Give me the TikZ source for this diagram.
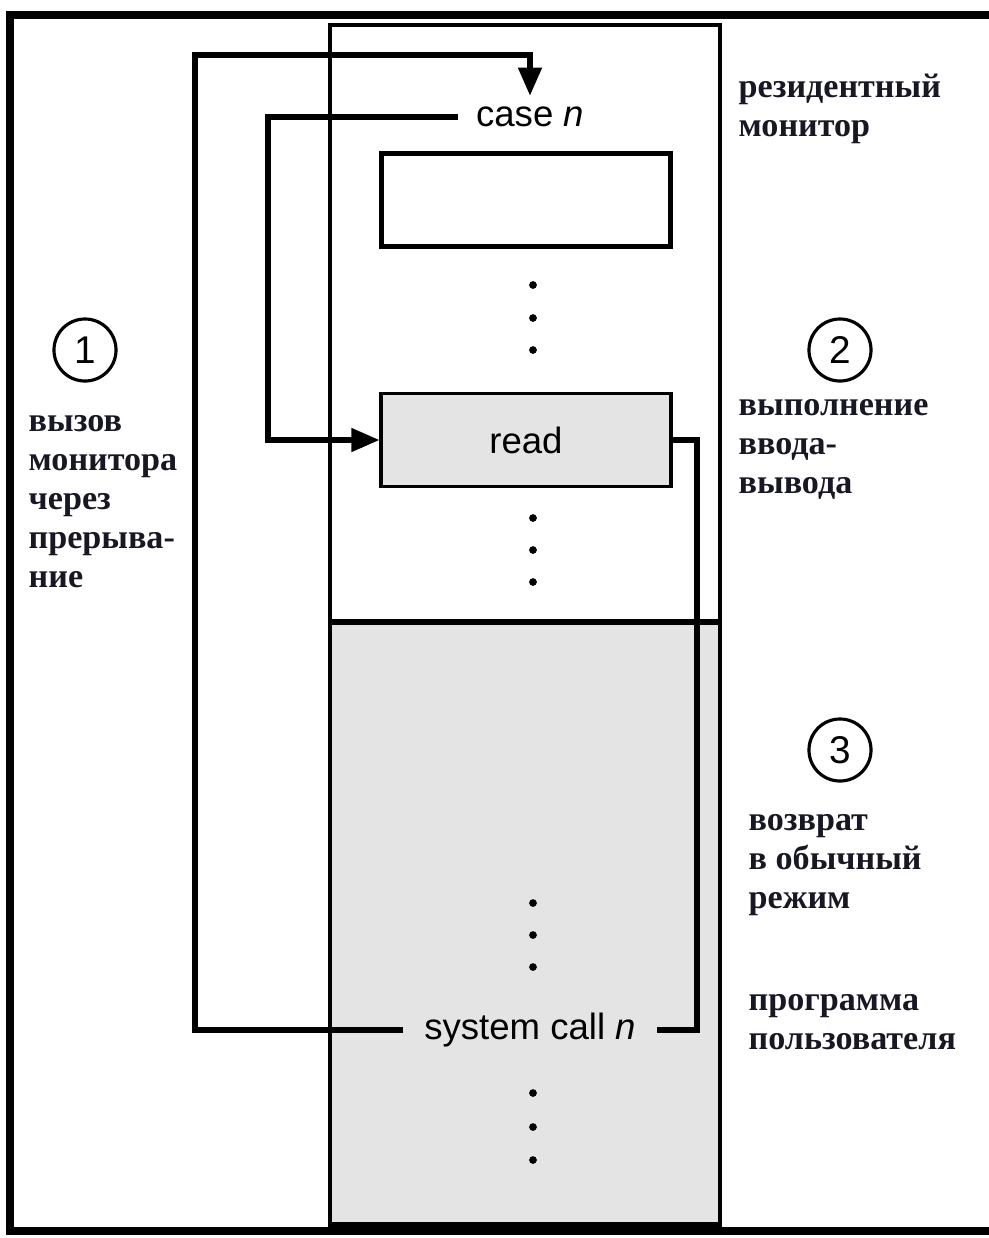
\documentclass[tikz,border=0pt]{standalone}
\usepackage{fontspec}
\setmainfont{Liberation Serif}
\setsansfont{Liberation Sans}
\usetikzlibrary{arrows.meta, positioning}
\definecolor{usergrey}{RGB}{228,228,228}
\definecolor{labelink}{RGB}{24,24,36}

\begin{document}
\begin{tikzpicture}[x=0.01cm, y=-0.01cm,
    conn/.style={line width=1.5pt},
    arr/.style={conn, -{Triangle[length=8pt, width=6.5pt]}},
    codetext/.style={font=\sffamily\fontsize{10.4}{13}\selectfont, inner xsep=5pt, inner ysep=3pt},
    routine/.style={draw, minimum width=2.89cm, minimum height=0.93cm, inner sep=0pt,
                    font=\sffamily\fontsize{10.4}{13}\selectfont},
    stepmark/.style={draw, circle, line width=0.9pt, minimum size=0.62cm, inner sep=0pt,
                     font=\sffamily\fontsize{11}{13}\selectfont},
    note/.style={anchor=north west, align=left, inner sep=0pt, text=labelink,
                 font=\bfseries\fontsize{9.7}{11.1}\selectfont},
]
    \useasboundingbox (0,0) rectangle (989,1238);

    % frame and memory column
    \draw[line width=2.5pt] (1000,15) -- (10,15) -- (10,1231) -- (1000,1231);
    \fill[usergrey] (330,622) rectangle (720,1226);
    \draw[line width=1.4pt] (330,25) rectangle (720,1226);
    \draw[line width=1.8pt] (330,622) -- (720,622);
    \draw[line width=2.2pt] (330,1226) -- (720,1226);

    \node[codetext] (casen) at (530,117) {case \textit{n}};
    \node[routine, fill=white, line width=1.6pt] (slot) at (526,200) {};
    \node[routine, fill=usergrey, line width=1.1pt] (read) at (526,440) {read};
    \node[codetext, inner xsep=6pt] (sys) at (530,1030) {system call \textit{n}};

    \foreach \y in {285,318,350,518,550,582,903,935,967,1093,1127,1160}
        \fill (533,\y) circle (1.1pt);

    \coordinate (tcorner) at (195,55);
    \coordinate (ccorner) at (268,440);
    \coordinate (rcorner) at (697,440);
    \draw[arr] (sys.west) -| (tcorner) -| (casen.north);
    \draw[arr] (casen.west) -| (ccorner) -- (read.west);
    \draw[conn] (read.east) -- (rcorner) |- (sys.east);

    \node[stepmark] (s1) at (85,350) {1};
    \node[stepmark] (s2) at (840,350) {2};
    \node[stepmark] (s3) at (840,750) {3};

    \node[note] (callnote) at (28,415) {вызов\\монитора\\через\\прерыва-\\ние};
    \node[note] (resnote) at (738,73) {резидентный\\монитор};
    \node[note] (ionote) at (738,399) {выполнение\\ввода-\\вывода};
    \node[note] (retnote) at (748,814) {возврат\\в обычный\\режим};
    \node[note] (usernote) at (748,994) {программа\\пользователя};
\end{tikzpicture}
\end{document}
